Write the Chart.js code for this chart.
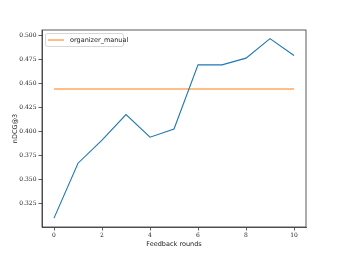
<!DOCTYPE html>
<html><head><meta charset="utf-8">
<script src="https://cdn.jsdelivr.net/npm/chart.js@4/dist/chart.umd.min.js"></script>
<style>html,body{margin:0;padding:0;background:#fff}#c{display:block}</style>
</head><body>
<canvas id="c" width="340" height="255"></canvas>
<script>
const rounds = [0,1,2,3,4,5,6,7,8,9,10];
const ndcgFeedback = [0.310,0.367,0.391,0.4175,0.394,0.4025,0.469,0.469,0.476,0.4963,0.4787];
const organizerManual = [0.444,0.444,0.444,0.444,0.444,0.444,0.444,0.444,0.444,0.444,0.444];
const xTicks = [0,2,4,6,8,10];
const yTicks = [0.325,0.350,0.375,0.400,0.425,0.450,0.475,0.500];
const legendLabel = 'organizer_manual';

const frame = {
  id:'frame',
  afterDraw(ch){
    const {ctx, chartArea:a} = ch;
    ctx.save();
    ctx.strokeStyle='#333'; ctx.lineWidth=0.8;
    ctx.strokeRect(a.left, a.top, a.right-a.left, a.bottom-a.top);
    // legend
    const lx=a.left+3, ly=a.top+3, lw=78, lh=13;
    ctx.fillStyle='rgba(255,255,255,0.8)';
    ctx.strokeStyle='#ccc'; ctx.lineWidth=0.8;
    ctx.beginPath(); ctx.roundRect(lx+0.5,ly+0.5,lw,lh,2); ctx.fill(); ctx.stroke();
    ctx.strokeStyle='#ff7f0e'; ctx.lineWidth=1.0;
    ctx.beginPath(); ctx.moveTo(lx+3,ly+7); ctx.lineTo(lx+19,ly+7); ctx.stroke();
    ctx.fillStyle='#222'; ctx.font='6.5px "DejaVu Sans"'; ctx.textBaseline='middle';
    ctx.fillText(legendLabel, lx+25, ly+7.2);
    ctx.restore();
  }
};

new Chart(document.getElementById('c'), {
  type:'line',
  data:{
    datasets:[
      {data: rounds.map((r,i)=>({x:r,y:ndcgFeedback[i]})), borderColor:'#1f77b4', borderWidth:1.1, pointRadius:0, tension:0, fill:false},
      {data: rounds.map((r,i)=>({x:r,y:organizerManual[i]})), borderColor:'#ff7f0e', borderWidth:1.1, pointRadius:0, tension:0, fill:false}
    ]
  },
  options:{
    responsive:false, animation:false, devicePixelRatio:1,
    layout:{padding:{left:11,top:30,right:34,bottom:0}},
    plugins:{legend:{display:false}, tooltip:{enabled:false}},
    scales:{
      x:{type:'linear', min:-0.5, max:10.5,
        afterBuildTicks(s){ s.ticks = xTicks.map(v=>({value:v})); },
        afterFit(s){ s.height = 28; },
        grid:{drawOnChartArea:false, drawTicks:true, tickLength:3.5, color:'#333', tickWidth:0.8},
        border:{display:true, color:'#333', width:0.8},
        ticks:{color:'#222', font:{family:'"DejaVu Serif"', size:6}, padding:1, maxRotation:0, callback:v=>String(v)},
        title:{display:true, text:'Feedback rounds', color:'#222', font:{family:'"DejaVu Sans"', size:6.5}, padding:{top:0,bottom:7}}
      },
      y:{type:'linear', min:0.3008, max:0.5052,
        afterBuildTicks(s){ s.ticks = yTicks.map(v=>({value:v})); },
        afterFit(s){ s.width = 31; },
        grid:{drawOnChartArea:false, drawTicks:true, tickLength:3.5, color:'#333', tickWidth:0.8},
        border:{display:true, color:'#333', width:0.8},
        ticks:{color:'#222', font:{family:'"DejaVu Serif"', size:6}, padding:2, callback:v=>v.toFixed(3)},
        title:{display:true, text:'nDCG@3', color:'#222', font:{family:'"DejaVu Sans"', size:6.5}, padding:{top:0,bottom:0}}
      }
    }
  },
  plugins:[frame]
});
</script>
</body></html>
